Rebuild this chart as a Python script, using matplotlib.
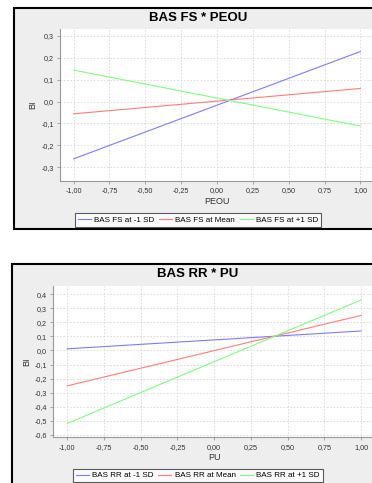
import matplotlib
matplotlib.use("Agg")
import matplotlib.pyplot as plt
from matplotlib.patches import Rectangle
from matplotlib.ticker import FuncFormatter, MultipleLocator
from matplotlib.lines import Line2D

plt.rcParams['font.family'] = ['Liberation Sans', 'DejaVu Sans']

W, H = 372, 483

# x values of the simple slopes
x_vals = [-1.0, 1.0]

# top chart: BAS FS * PEOU
fs_title = "BAS FS * PEOU"
fs_xlabel = "PEOU"
fs_labels = ["BAS FS at -1 SD", "BAS FS at Mean", "BAS FS at +1 SD"]
fs_low = [-0.262, 0.229]
fs_mean = [-0.056, 0.060]
fs_high = [0.144, -0.112]

# bottom chart: BAS RR * PU
rr_title = "BAS RR * PU"
rr_xlabel = "PU"
rr_labels = ["BAS RR at -1 SD", "BAS RR at Mean", "BAS RR at +1 SD"]
rr_low = [0.012, 0.139]
rr_mean = [-0.252, 0.250]
rr_high = [-0.520, 0.360]

colors = ["#7b7bff", "#ff7b7b", "#7bff7b"]

fig = plt.figure(figsize=(W / 100, H / 100), dpi=100)
fig.patch.set_facecolor("white")


def px_axes(left, top, right, bottom):
    return fig.add_axes([left / W, 1 - bottom / H, (right - left) / W, (bottom - top) / H])


def comma(fmt):
    return FuncFormatter(lambda v, p: (fmt % v).replace(".", ","))


def panel(box, plot, title, title_y, xlabel, xlabel_y, ylabel_x, series, labels,
          ylim, ystep, legend_y):
    # grey chart panel with black border
    x0, y0, x1, y1 = box
    fig.patches.append(Rectangle((x0 / W, 1 - y1 / H), (x1 - x0) / W, (y1 - y0) / H,
                                 transform=fig.transFigure, facecolor="#eeeeee",
                                 edgecolor="black", linewidth=1.5, zorder=-5))
    ax = px_axes(*plot)
    ax.set_zorder(2)
    for ys, c, lab in zip(series, colors, labels):
        ax.plot(x_vals, ys, color=c, linewidth=0.8, label=lab)
    ax.set_xlim(-1.095, 1.095)
    ax.set_ylim(*ylim)
    ax.xaxis.set_major_locator(MultipleLocator(0.25))
    ax.yaxis.set_major_locator(MultipleLocator(ystep))
    ax.xaxis.set_major_formatter(comma("%.2f"))
    ax.yaxis.set_major_formatter(comma("%.1f"))
    ax.grid(True, color="#d8d8d8", linestyle=(0, (2, 2)), linewidth=0.6)
    for s in ["top", "right"]:
        ax.spines[s].set_visible(False)
    for s in ["left", "bottom"]:
        ax.spines[s].set_color("#999999")
        ax.spines[s].set_linewidth(0.8)
    ax.tick_params(labelsize=5.2, colors="#999999", labelcolor="#333333", length=2,
                   width=0.6, pad=2.5)
    cx = (plot[0] + plot[2]) / 2
    fig.text(198 / W, 1 - title_y / H, title, ha="center", va="center",
             fontsize=9.5, fontweight="bold", zorder=3)
    fig.text(cx / W, 1 - xlabel_y / H, xlabel, ha="center", va="center",
             fontsize=6.5, color="#333333", zorder=3)
    fig.text(ylabel_x / W, 1 - (plot[1] + plot[3]) / 2 / H, "BI", ha="center",
             va="center", rotation=90, fontsize=6.5, color="#333333", zorder=3)
    handles = [Line2D([], [], color=c, linewidth=0.8) for c in colors]
    leg = fig.legend(handles, labels, loc="center", ncol=3,
                     bbox_to_anchor=(198 / W, 1 - legend_y / H), fontsize=5.8,
                     frameon=True, fancybox=False, handlelength=1.6, handletextpad=0.4,
                     columnspacing=0.6, borderpad=0.35, borderaxespad=0)
    leg.set_zorder(3)
    leg.get_frame().set_edgecolor("#333333")
    leg.get_frame().set_linewidth(0.8)
    leg.get_frame().set_facecolor("white")
    return ax


panel((14, 8, 400, 229), (60, 29, 374, 180.7), fs_title, 18, fs_xlabel, 201.5, 33,
      [fs_low, fs_mean, fs_high], fs_labels, (-0.362, 0.332), 0.1, 220)

panel((12, 264, 400, 500), (53.3, 285.7, 375, 437.3), rr_title, 274, rr_xlabel, 457.5, 27,
      [rr_low, rr_mean, rr_high], rr_labels, (-0.619, 0.462), 0.1, 475.5)

fig.savefig("out.png", dpi=100)
